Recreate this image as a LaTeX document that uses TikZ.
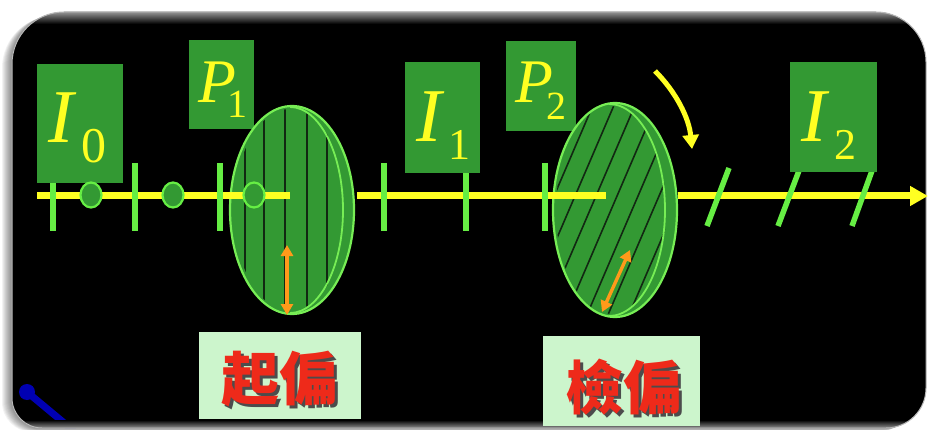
\documentclass[tikz,border=0pt]{standalone}
\usepackage{fontspec}
\newfontfamily\symfont{Liberation Serif}
\newfontfamily\cjk{Noto Sans CJK TC}
\usetikzlibrary{arrows.meta,shapes.geometric}

\definecolor{boxgreen}{HTML}{339933}
\definecolor{tickgreen}{HTML}{66EE44}
\definecolor{rimgreen}{HTML}{77EE55}
\definecolor{beam}{HTML}{FFFF22}
\definecolor{grooves}{HTML}{122812}
\definecolor{axisorange}{HTML}{FF9A1A}
\definecolor{labelbg}{HTML}{CCF5CC}
\definecolor{labelred}{HTML}{EE2A1A}

% italic symbol with a lowered upright index:
% #1 letter, #2 letter size, #3 kern, #4 drop, #5 index, #6 index size
\newcommand\polsym[6]{{\symfont\itshape\fontsize{#2}{#2}\selectfont #1}%
  \kern#3pt\raisebox{-#4pt}{\symfont\fontsize{#6}{#6}\selectfont #5}}
% caption text with a grey drop shadow
\newcommand\shadowed[1]{\makebox[0pt][l]{\kern3pt\raisebox{-3pt}{\textcolor{black!70}{#1}}}%
  \textcolor{labelred}{#1}}

\tikzset{
  symbox/.style={fill=boxgreen, inner sep=0, outer sep=0},
  symtext/.style={text=beam, inner sep=0, anchor=base west},
  beamline/.style={draw=beam, line width=7pt},
  marktick/.style={draw=tickgreen, line width=5.5pt},
  dot/.style={ellipse, fill=boxgreen, draw=tickgreen, line width=2.2pt,
    minimum width=21pt, minimum height=25pt, inner sep=0},
  disk/.style={fill=boxgreen, draw=rimgreen, line width=2.2pt},
  rim/.style={draw=rimgreen, line width=1.8pt},
  groove/.style={draw=grooves, line width=1.6pt},
  axisarrow/.style={draw=axisorange, line width=3.4pt,
    {Triangle[length=11pt,width=12pt]}-{Triangle[length=11pt,width=12pt]}},
  labelbox/.style={fill=labelbg, inner sep=0},
  captext/.style={inner sep=0, font=\cjk\bfseries\fontsize{58}{58}\selectfont},
}

% outline of the black panel (units of one pixel, y grows downwards)
\def\panelpath{(12,64) arc[start angle=180, end angle=270, radius=52]
  -- (876,12) arc[start angle=270, end angle=360, radius=50]
  -- (926,388) arc[start angle=0, end angle=90, radius=40]
  -- (42,428) arc[start angle=90, end angle=180, radius=30] -- cycle}

\begin{document}
\begin{tikzpicture}[x=1pt, y=-1pt]
\useasboundingbox (0,0) rectangle (928,430);
\fill[white] (0,0) rectangle (928,430);

% soft shadow and panel
\foreach \i in {1,...,10}
  \fill[black, opacity=0.05, shift={(-\i*1.0,\i*0.4)}] \panelpath;
\fill[black] \panelpath;
\begin{scope}
  \clip \panelpath;
  \fill[blue!70!black] (27,392) circle[radius=8];
  \draw[blue!70!black, line width=7pt, line cap=round] (27,392) -- (75,432);
  \shade[top color=gray!75, bottom color=black] (0,11) rectangle (928,24);
  \shade[top color=black, bottom color=gray!60] (0,420) rectangle (928,430);
\end{scope}
\draw[gray!55, line width=1pt] \panelpath;

% polarizer symbol boxes (behind the disks)
\node[symbox, minimum width=65pt, minimum height=89pt] (boxP1) at (221.5,84.5) {};
\node[symbox, minimum width=70pt, minimum height=90pt] (boxP2) at (541,86) {};

% polarizer disk P1 with vertical grooves
\fill[disk] (292,210) ellipse[x radius=62, y radius=104];
\begin{scope}
  \clip (290,210) ellipse[x radius=56, y radius=101];
  \foreach \gx in {245,264,285,307,327}
    \draw[groove] (\gx,100) -- (\gx,320);
\end{scope}
\draw[rim] (290,107) arc[start angle=-90, end angle=90, x radius=53, y radius=103];

% analyzer disk P2 with slanted grooves
\fill[disk] (615,210) ellipse[x radius=62, y radius=107];
\begin{scope}
  \clip (611,210) ellipse[x radius=55, y radius=104];
  \foreach \k in {-7,...,7}
    \draw[groove] ({611+\k*21-55},338) -- ({611+\k*21+55},82);
\end{scope}
\draw[rim] (609,104) arc[start angle=-90, end angle=90, x radius=56, y radius=106];

% light beam
\coordinate (beamA) at (37,196);
\coordinate (beamB) at (290,196);
\coordinate (beamC) at (357,196);
\coordinate (beamD) at (606,196);
\coordinate (beamE) at (678,196);
\coordinate (beamF) at (928,196);
\draw[beamline] (beamA) -- (beamB);
\draw[beamline] (beamC) -- (beamD);
\draw[beamline, -{Triangle[length=18pt,width=19pt]}] (beamE) -- (beamF);

% vibration marks along the beam
\foreach \tx in {53,135,220,384,466,545}
  \draw[marktick] (\tx,163) -- (\tx,231);
\draw[marktick] (729,168) -- (707,226);
\draw[marktick] (800,168) -- (778,226);
\draw[marktick] (873,168) -- (852,226);

% intensity symbol boxes
\node[symbox, minimum width=86pt, minimum height=119pt] (boxI0) at (80,123.5) {};
\node[symbox, minimum width=75pt, minimum height=111pt] (boxI1) at (442.5,117.5) {};
\node[symbox, minimum width=87pt, minimum height=110pt] (boxI2) at (833.5,117) {};

% perpendicular vibrations (dots)
\node[dot] (dotA) at (91,195) {};
\node[dot] (dotB) at (173,195) {};
\node[dot] (dotC) at (254,195) {};

% symbols
\node[symtext] (symI0) at (48,143) {\polsym{I}{76}{8}{20}{0}{50}};
\node[symtext] (symP1) at (198,103) {\polsym{P}{62}{-9}{15}{1}{40}};
\node[symtext] (symI1) at (416,142) {\polsym{I}{76}{7}{18}{1}{44}};
\node[symtext] (symP2) at (515,103) {\polsym{P}{62}{-7}{17}{2}{40}};
\node[symtext] (symI2) at (801,142) {\polsym{I}{76}{8}{18}{2}{44}};

% transmission axes
\coordinate (axP1a) at (287,245);
\coordinate (axP1b) at (287,315);
\coordinate (axP2a) at (630,250);
\coordinate (axP2b) at (602,312);
\draw[axisarrow] (axP1a) -- (axP1b);
\draw[axisarrow] (axP2a) -- (axP2b);

% rotation of the analyzer
\coordinate (rotA) at (655,71);
\coordinate (rotB) at (692,149);
\draw[draw=beam, line width=5pt, -{Triangle[length=14pt,width=16pt]}]
  (rotA) .. controls (676,92) and (689,118) .. (rotB);

% captions
\node[labelbox, minimum width=162pt, minimum height=87pt] (capA) at (280,375.5) {};
\node[labelbox, minimum width=157pt, minimum height=90pt] (capB) at (621.5,381) {};
\node[captext] (txtA) at (279,381) {\shadowed{起偏}};
\node[captext] (txtB) at (623,389) {\shadowed{檢偏}};
\end{tikzpicture}
\end{document}
